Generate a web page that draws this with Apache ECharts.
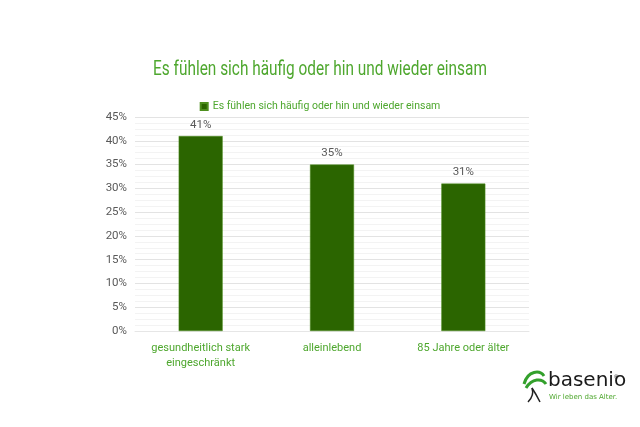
<!DOCTYPE html>
<html><head><meta charset="utf-8">
<script src="https://cdn.jsdelivr.net/npm/echarts@6/dist/echarts.min.js"></script>
<style>html,body{margin:0;padding:0;background:#fff}#c{width:640px;height:427px}</style>
</head><body><div id="c"></div>
<script>
const categories = ['gesundheitlich stark\neingeschränkt', 'alleinlebend', '85 Jahre oder älter'];
const values = [41, 35, 31];
const seriesName = 'Es fühlen sich häufig oder hin und wieder einsam';
const titleText = 'Es fühlen sich häufig oder hin und wieder einsam';
const green = '#4ea72e';
const FONT = 'Roboto, sans-serif';
const chart = echarts.init(document.getElementById('c'));
chart.setOption({
  backgroundColor: '#fff',
  animation: false,
  legend: { top: 96, left: 'center', itemWidth: 7, itemHeight: 7, itemGap: 4, icon: 'rect',
    textStyle: { color: green, fontFamily: FONT, fontSize: 10.5 }, data: [seriesName] },
  grid: { left: 135, right: 111, top: 117, bottom: 96 },
  xAxis: { type: 'category', data: categories,
    axisLine: { lineStyle: { color: '#e6e6e6' } }, axisTick: { show: false },
    axisLabel: { interval: 0, color: green, fontFamily: FONT, fontSize: 11, lineHeight: 15, margin: 10 } },
  yAxis: { type: 'value', min: 0, max: 45, interval: 5,
    axisLabel: { formatter: '{value}%', color: '#595959', fontFamily: FONT, fontSize: 11.5, margin: 8 },
    splitLine: { lineStyle: { color: '#e3e3e3' } },
    minorTick: { show: false, splitNumber: 4 },
    minorSplitLine: { show: true, lineStyle: { color: '#f3f3f3' } },
    axisLine: { show: false }, axisTick: { show: false } },
  series: [{ name: seriesName, type: 'bar', data: values, barWidth: 44,
    itemStyle: { color: '#2b6500', borderColor: '#4e8f1e', borderWidth: 0.5 },
    label: { show: true, position: 'top', formatter: '{c}%', color: '#595959', fontFamily: FONT, fontSize: 11.5, distance: 5 } }],
  graphic: [
    { type: 'text', x: 320, y: 70, scaleX: 0.77, style: { text: titleText, fill: green, font: '20px Roboto', align: 'center', verticalAlign: 'middle' } },
    { type: 'text', x: 548, y: 371, style: { text: 'basenio', fill: '#1a1a1a', font: '20px "DejaVu Sans"' } },
    { type: 'text', x: 549, y: 394, style: { text: 'Wir leben das Alter.', fill: green, font: '7px "DejaVu Sans"' } },
    { type: 'text', x: 614, y: 374, style: { text: '®', fill: '#1a1a1a', font: '6px sans-serif' } },
    { type: 'bezierCurve', shape: { x1: 524, y1: 384, x2: 544, y2: 376, cpx1: 528, cpy1: 370, cpx2: 540, cpy2: 370 }, style: { stroke: '#33a02c', fill: null, lineWidth: 3 } },
    { type: 'bezierCurve', shape: { x1: 526, y1: 388, x2: 546, y2: 384, cpx1: 532, cpy1: 378, cpx2: 542, cpy2: 378 }, style: { stroke: '#33a02c', fill: null, lineWidth: 3 } },
    { type: 'bezierCurve', shape: { x1: 532, y1: 388, x2: 528, y2: 402, cpx1: 534, cpy1: 394, cpx2: 532, cpy2: 398 }, style: { stroke: '#222', fill: null, lineWidth: 1.5 } },
    { type: 'bezierCurve', shape: { x1: 532, y1: 388, x2: 540, y2: 402, cpx1: 536, cpy1: 394, cpx2: 538, cpy2: 398 }, style: { stroke: '#222', fill: null, lineWidth: 1.5 } }
  ]
});
</script></body></html>
